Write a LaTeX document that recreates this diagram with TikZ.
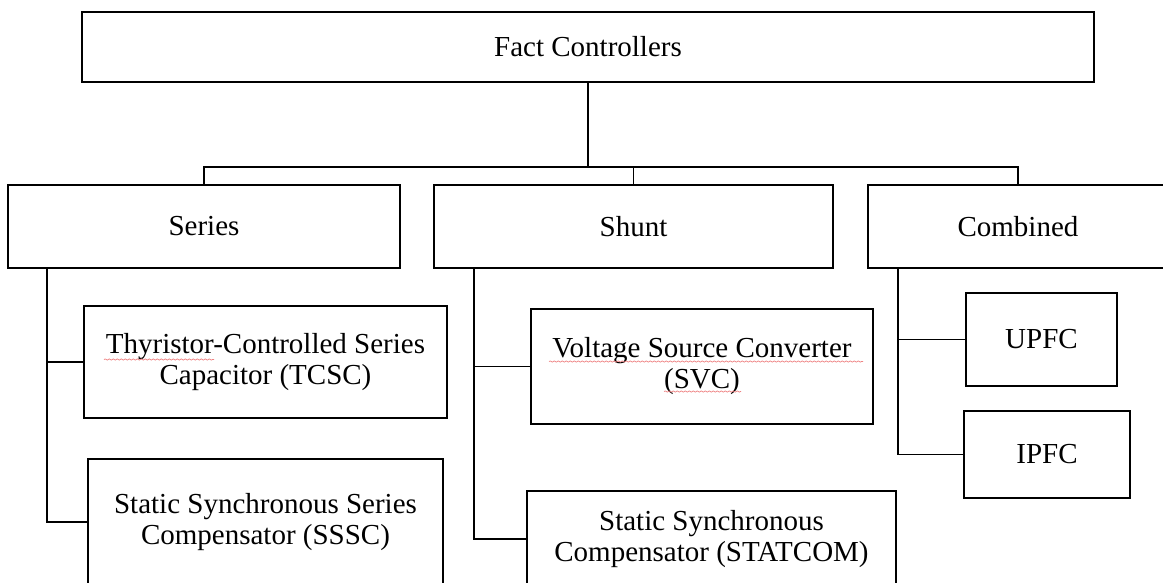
\documentclass[tikz,border=0pt]{standalone}
\usepackage{fontspec}
\setmainfont{Liberation Serif}
\usetikzlibrary{decorations.pathmorphing}
\begin{document}
\begin{tikzpicture}[x=1pt,y=-1pt,
  box/.style={draw, line width=1.6pt, outer sep=0pt, inner sep=0pt, align=center,
              font=\fontsize{29}{31}\selectfont},
  conn/.style={line width=1.6pt},
  spell/.style={draw={rgb,255:red,238;green,130;blue,130}, line width=0.7pt,
                decorate, decoration={snake, amplitude=0.6pt, segment length=4pt}}]
\useasboundingbox (0,0) rectangle (1163,582);
\clip (0,0) rectangle (1163,582);

% top level
\node[box, minimum width=1012, minimum height=70] (top) at (588,47) {Fact Controllers};

% second level
\node[box, minimum width=392, minimum height=83] (series)   at (204,226.5)  {Series};
\node[box, minimum width=399, minimum height=83] (shunt)    at (633.5,226.5) {Shunt};
\node[box, minimum width=300, minimum height=83] (combined) at (1018,226.5) {Combined};

% third level
\node[box, minimum width=363, minimum height=112] (tcsc)    at (265.5,362)  {Thyristor-Controlled Series\\Capacitor (TCSC)};
\node[box, minimum width=355, minimum height=126] (sssc)    at (265.5,522)  {Static Synchronous Series\\Compensator (SSSC)};
\node[box, minimum width=342, minimum height=115] (vsc)     at (702,366.5)  {Voltage Source Converter\\(SVC)};
\node[box, minimum width=369, minimum height=96]  (statcom) at (711.5,539)  {Static Synchronous\\Compensator (STATCOM)};
\node[box, minimum width=151, minimum height=93]  (upfc)    at (1041.5,339.5) {UPFC};
\node[box, minimum width=166, minimum height=87]  (ipfc)    at (1047,454.5) {IPFC};

% bus from top box
\coordinate (bus) at (top.south |- 0,167);
\draw[conn] (top.south) -- (bus);
\draw[conn] (series.north) -- (series.north |- bus) -- (combined.north |- bus) -- (combined.north);
\draw[conn] (shunt.north) -- (shunt.north |- bus);

% series trunk
\path (series.south west) ++(39,0) coordinate (sT);
\draw[conn] (sT) -- (sT |- sssc.west) -- (sssc.west);
\draw[conn] (tcsc.west) -- (tcsc.west -| sT);

% shunt trunk
\path (shunt.south west) ++(40,0) coordinate (hT);
\draw[conn] (hT) -- (hT |- statcom.west) -- (statcom.west);
\draw[conn] (vsc.west) -- (vsc.west -| hT);

% combined trunk
\path (combined.south west) ++(30,0) coordinate (cT);
\draw[conn] (cT) -- (cT |- ipfc.west) -- (ipfc.west);
\draw[conn] (upfc.west) -- (upfc.west -| cT);

% spell-check underlines
\path[spell] (104,359.5) -- (214,359.5);
\path[spell] (549,361.5) -- (863,361.5);
\path[spell] (664,391.5) -- (741,391.5);
\end{tikzpicture}
\end{document}
